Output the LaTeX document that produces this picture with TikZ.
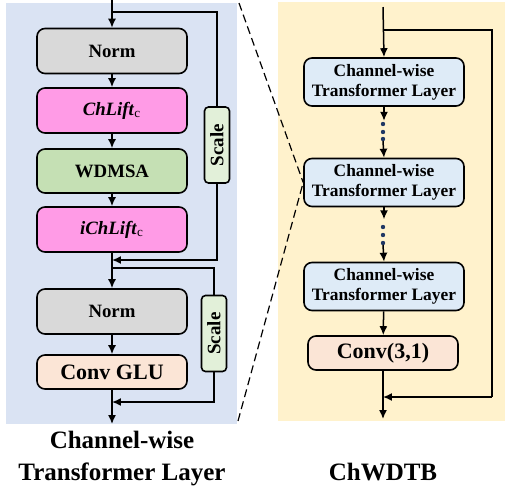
\documentclass[tikz,border=0pt]{standalone}
\usepackage{fontspec}
\setmainfont{Liberation Serif}
\usepackage{graphicx}
\usetikzlibrary{arrows.meta,positioning}
\definecolor{layerbg}{HTML}{DAE3F3}
\definecolor{blockbg}{HTML}{FFF2CC}
\definecolor{normgray}{HTML}{D9D9D9}
\definecolor{liftpink}{RGB}{255,155,230}
\definecolor{attngreen}{HTML}{C5E0B4}
\definecolor{scalegreen}{HTML}{E2F0D9}
\definecolor{convpeach}{HTML}{FBE5D6}
\definecolor{ctlblue}{HTML}{DEEBF7}
\definecolor{dotnavy}{HTML}{203864}

\begin{document}
\begin{tikzpicture}[x=0.5pt,y=-0.5pt,
  blk/.style={draw, line width=0.8pt, rounded corners=4pt, align=center,
    inner sep=0pt, minimum width=75pt, minimum height=22.5pt,
    font=\fontsize{9.4}{11}\selectfont\bfseries},
  scalebox/.style={draw, line width=0.8pt, rounded corners=2pt, fill=scalegreen,
    inner sep=0pt, minimum width=12.5pt, minimum height=38pt,
    font=\fontsize{9.5}{11}\selectfont\bfseries},
  ctl/.style={blk, fill=ctlblue, minimum width=80pt, minimum height=24pt,
    font=\fontsize{8.7}{10}\selectfont\bfseries},
  caption/.style={align=center, font=\fontsize{12.5}{16}\selectfont\bfseries},
  wire/.style={line width=0.75pt},
  arr/.style={wire, -{Latex[length=4.5pt,width=4pt]}},
  zoomline/.style={line width=0.6pt, dash pattern=on 4pt off 2.2pt}]
\useasboundingbox (0,0) rectangle (505,489);
% panels
\fill[layerbg] (6,3) rectangle (237,424);
\fill[blockbg] (278,2) rectangle (505,421);
% Channel-wise Transformer Layer (left)
\node[blk, fill=normgray] (norm1) at (112,51) {Norm};
\node[blk, fill=liftpink] (lift) at (112,110.5) {\textit{ChLift}\textsubscript{\normalfont c}};
\node[blk, fill=attngreen, minimum height=22pt] (wdmsa) at (112,171) {WDMSA};
\node[blk, fill=liftpink] (ilift) at (112,229.5) {\textit{iChLift}\textsubscript{\normalfont c}};
\node[blk, fill=normgray] (norm2) at (112,311.5) {Norm};
\node[blk, fill=convpeach, minimum height=17pt,
      font=\fontsize{11}{13}\selectfont\bfseries] (glu) at (112,372) {Conv GLU};
\node[scalebox] (scale1) at (217,145) {\rotatebox{90}{Scale}};
\node[scalebox] (scale2) at (214,333.5) {\rotatebox{90}{Scale}};
\coordinate (inL) at (112,0);
\coordinate (brL1) at (112,12);
\coordinate (jnL1) at (112,260);
\coordinate (brL2) at (112,268);
\coordinate (jnL2) at (112,402);
\coordinate (outL) at (112,424);
\draw[arr] (inL) -- (norm1.north);
\draw[wire] (brL1) -| (scale1.north);
\draw[arr] (scale1.south) |- (jnL1);
\draw[arr] (norm1) -- (lift);
\draw[arr] (lift) -- (wdmsa);
\draw[arr] (wdmsa) -- (ilift);
\draw[arr] (ilift) -- (norm2);
\draw[wire] (brL2) -| (scale2.north);
\draw[arr] (scale2.south) |- (jnL2);
\draw[arr] (norm2) -- (glu);
\draw[arr] (glu) -- (outL);
% ChWDTB (right)
\node[ctl] (ctl1) at (384,82) {Channel-wise\\Transformer Layer};
\node[ctl] (ctl2) at (384,182.5) {Channel-wise\\Transformer Layer};
\node[ctl] (ctl3) at (384,286.5) {Channel-wise\\Transformer Layer};
\node[blk, fill=convpeach, minimum height=17pt,
      font=\fontsize{11}{13}\selectfont\bfseries] (conv) at (383,353) {Conv(3,1)};
\coordinate (inR) at (383,7);
\coordinate (brR) at (383,30);
\coordinate (cornR) at (492,397);
\coordinate (jnR) at (383,397);
\coordinate (outR) at (383,419);
\draw[arr] (inR) -- (ctl1.north);
\draw[wire] (brR) -| (cornR);
\draw[arr] (cornR) -- (jnR);
\draw[arr] (ctl1.south) -- ++(0,14) coordinate (d1);
\foreach \y in {124,132,139} \fill[dotnavy] (383,\y) circle (1.1pt);
\draw[arr] (383,141) -- (ctl2.north);
\draw[arr] (ctl2.south) -- ++(0,12) coordinate (d2);
\foreach \y in {227,235,243} \fill[dotnavy] (383,\y) circle (1.1pt);
\draw[arr] (383,245) -- (ctl3.north);
\draw[arr] (ctl3) -- (conv);
\draw[arr] (conv) -- (outR);
% zoom lines
\draw[zoomline] (239,3) -- (ctl2.west);
\draw[zoomline] (238,421) -- (ctl2.west);
% captions
\node[caption] (capL) at (122,459) {Channel-wise\\Transformer Layer};
\node[caption] (capR) at (383,472) {ChWDTB};
\end{tikzpicture}
\end{document}
